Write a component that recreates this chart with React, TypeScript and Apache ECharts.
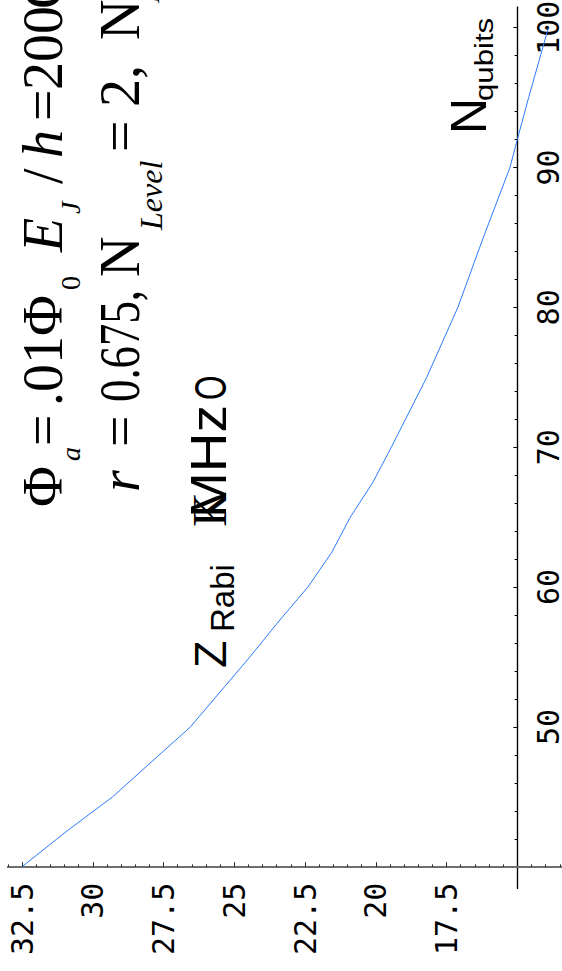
import React, { useEffect, useRef } from 'react';
import * as echarts from 'echarts';

// Data (N_qubits vs Omega_Rabi in MHz)
const N_QUBITS = [40, 42.5, 45, 50, 55, 57.5, 60, 62.5, 65, 67.5, 70, 75, 80, 85, 90, 92, 95, 100];
const OMEGA_RABI = [32.5, 30.95, 29.3, 26.55, 24.45, 23.45, 22.4, 21.55, 20.9, 20.1, 19.45, 18.2, 17.1, 16.2, 15.26, 15.0, 14.6, 13.9];

// Tick labels
const OMEGA_TICKS = [17.5, 20, 22.5, 25, 27.5, 30, 32.5];
const N_TICKS = [50, 60, 70, 80, 90, 100];

// Axis crossing point and visible ranges
const OMEGA_CROSS = 15;
const N_CROSS = 40;
const OMEGA_MIN = 12.5;
const OMEGA_MAX = 33;
const N_MIN = 38.45;
const N_MAX = 101.48;

const toX = (o: number) => o - OMEGA_CROSS;
const toY = (n: number) => n - N_CROSS;
const fmt = (v: number) => String(Math.round(v * 10) / 10);

function minorValues(lo: number, hi: number, step: number, major: number): number[] {
  const out: number[] = [];
  const start = Math.ceil(lo / step - 1e-9);
  const end = Math.floor(hi / step + 1e-9);
  for (let k = start; k <= end; k++) {
    const v = k * step;
    const r = v / major;
    if (Math.abs(r - Math.round(r)) > 1e-6) out.push(v);
  }
  return out;
}

const SERIF = '"Liberation Serif", "DejaVu Serif", serif';
const SANS = '"Liberation Sans", Arial, sans-serif';
const MONO = '"DejaVu Sans Mono", monospace';

type Piece = { t: string; x: number; y: number; font: string; sx?: number };

function annotations(): Piece[] {
  const L1 = `56px ${SERIF}`;
  const L1i = `italic 56px ${SERIF}`;
  const S = `28px ${SERIF}`;
  const Si = `italic 28px ${SERIF}`;
  const c1 = 43.1;
  const s1 = 70.5;
  const c2 = 120.1;
  const s2 = 149.5;
  return [
    { t: 'Φ', x: c1, y: 507, font: L1 },
    { t: 'a', x: s1, y: 461, font: Si },
    { t: '=', x: c1, y: 446, font: L1 },
    { t: '.01Φ', x: c1, y: 406, font: L1 },
    { t: '0', x: s1, y: 290, font: S },
    { t: 'E', x: c1, y: 252, font: L1i },
    { t: 'J', x: s1, y: 214, font: Si },
    { t: '/', x: c1, y: 184, font: L1 },
    { t: 'h', x: c1, y: 158, font: L1i },
    { t: '=', x: c1, y: 121, font: L1 },
    { t: '200', x: c1, y: 90, font: L1 },
    { t: 'GHz', x: c1, y: 9, font: L1 },
    { t: 'r', x: c2, y: 492, font: L1i },
    { t: '=', x: c2, y: 447, font: L1 },
    { t: '0.675,', x: c2, y: 402, font: L1, sx: 0.8 },
    { t: 'N', x: c2, y: 277, font: L1 },
    { t: 'Level', x: s2 + 1, y: 230, font: `italic 32px ${SERIF}` },
    { t: '=', x: c2, y: 152, font: L1 },
    { t: '2,', x: c2, y: 107, font: L1 },
    { t: 'N', x: c2, y: 40, font: L1 },
    { t: 'L', x: s2, y: 3, font: Si },
    // axis titles
    { t: 'Z', x: 210.4, y: 668, font: `45px ${SANS}` },
    { t: 'Rabi', x: 222.6, y: 632, font: `33px ${SANS}` },
    { t: 'K', x: 209.8, y: 527, font: `48px ${SERIF}` },
    { t: 'MHz', x: 208.7, y: 518, font: `50px ${SANS}`, sx: 1.1 },
    { t: 'O', x: 210.4, y: 400, font: `45px ${SANS}`, sx: 0.7 },
    { t: 'N', x: 468.7, y: 134, font: `50px ${SANS}` },
    { t: 'qubits', x: 484, y: 101, font: `26px ${SANS}`, sx: 1.2 },
  ];
}

export default function App() {
  const ref = useRef<HTMLDivElement>(null);
  useEffect(() => {
    if (!ref.current) return;
    const chart = echarts.init(ref.current, undefined, { renderer: 'svg' });
    const xMajor = OMEGA_TICKS.map(toX);
    const xMinor = minorValues(OMEGA_MIN, OMEGA_MAX, 0.5, 2.5).map(toX);
    const yMajor = N_TICKS.map(toY);
    const yMinor = minorValues(N_MIN, N_MAX, 2, 10).filter((v) => v !== N_CROSS).map(toY);

    const xBase = {
      type: 'value',
      inverse: true,
      min: toX(OMEGA_MIN),
      max: toX(OMEGA_MAX),
      position: 'bottom',
      splitLine: { show: false },
      minorTick: { show: false },
      minorSplitLine: { show: false },
    };
    const yBase = {
      type: 'value',
      min: toY(N_MIN),
      max: toY(N_MAX),
      position: 'right',
      splitLine: { show: false },
      minorTick: { show: false },
      minorSplitLine: { show: false },
    };

    const option: any = {
      animation: false,
      backgroundColor: '#ffffff',
      grid: {
        left: 7.9,
        right: -26.05,
        top: 7,
        bottom: 82.6,
        containLabel: false,
        outerBoundsMode: 'none',
      },
      xAxis: [
        {
          ...xBase,
          axisLine: { show: true, onZero: true, onZeroAxisIndex: 0, lineStyle: { color: '#6e6e6e', width: 2 } },
          axisTick: { show: true, inside: true, length: 4.5, customValues: xMajor, lineStyle: { color: '#222', width: 1 } },
          axisLabel: {
            show: true,
            customValues: xMajor,
            rotate: 90,
            margin: -5.7,
            formatter: (v: number) => fmt(v + OMEGA_CROSS),
            fontFamily: MONO,
            fontSize: 30,
            color: '#000',
          },
        },
        {
          ...xBase,
          axisLine: { show: true, onZero: true, onZeroAxisIndex: 0, lineStyle: { color: '#6e6e6e', width: 2 } },
          axisTick: { show: true, inside: true, length: 2.3, customValues: xMinor, lineStyle: { color: '#222', width: 1 } },
          axisLabel: { show: false },
        },
      ],
      yAxis: [
        {
          ...yBase,
          axisLine: { show: true, onZero: true, onZeroAxisIndex: 0, lineStyle: { color: '#000', width: 1.2 } },
          axisTick: { show: true, inside: true, length: 4, customValues: yMajor, lineStyle: { color: '#000', width: 1 } },
          axisLabel: {
            show: true,
            customValues: yMajor,
            rotate: 90,
            margin: -54.85,
            formatter: (v: number) => fmt(v + N_CROSS),
            fontFamily: MONO,
            fontSize: 30,
            color: '#000',
          },
        },
        {
          ...yBase,
          axisLine: { show: true, onZero: true, onZeroAxisIndex: 0, lineStyle: { color: '#000', width: 1.2 } },
          axisTick: { show: true, inside: true, length: 2.7, customValues: yMinor, lineStyle: { color: '#000', width: 1 } },
          axisLabel: { show: false },
        },
      ],
      series: [
        {
          type: 'line',
          xAxisIndex: 0,
          yAxisIndex: 0,
          data: N_QUBITS.map((n, i) => [toX(OMEGA_RABI[i]), toY(n)]),
          showSymbol: false,
          symbol: 'none',
          clip: false,
          silent: true,
          lineStyle: { color: '#2a7bff', width: 1 },
        },
      ],
      graphic: {
        elements: annotations().map((p) => ({
          type: 'text',
          x: p.x,
          y: p.y,
          rotation: Math.PI / 2,
          scaleX: p.sx ?? 1,
          scaleY: 1,
          silent: true,
          style: {
            text: p.t,
            font: p.font,
            fill: '#000',
            textAlign: 'left',
            textVerticalAlign: 'middle',
          },
        })),
      },
    };
    chart.setOption(option);
    return () => chart.dispose();
  }, []);
  return (
    <div
      ref={ref}
      style={{ position: 'fixed', left: 0, top: 0, width: 562, height: 971, background: '#fff' }}
    />
  );
}
